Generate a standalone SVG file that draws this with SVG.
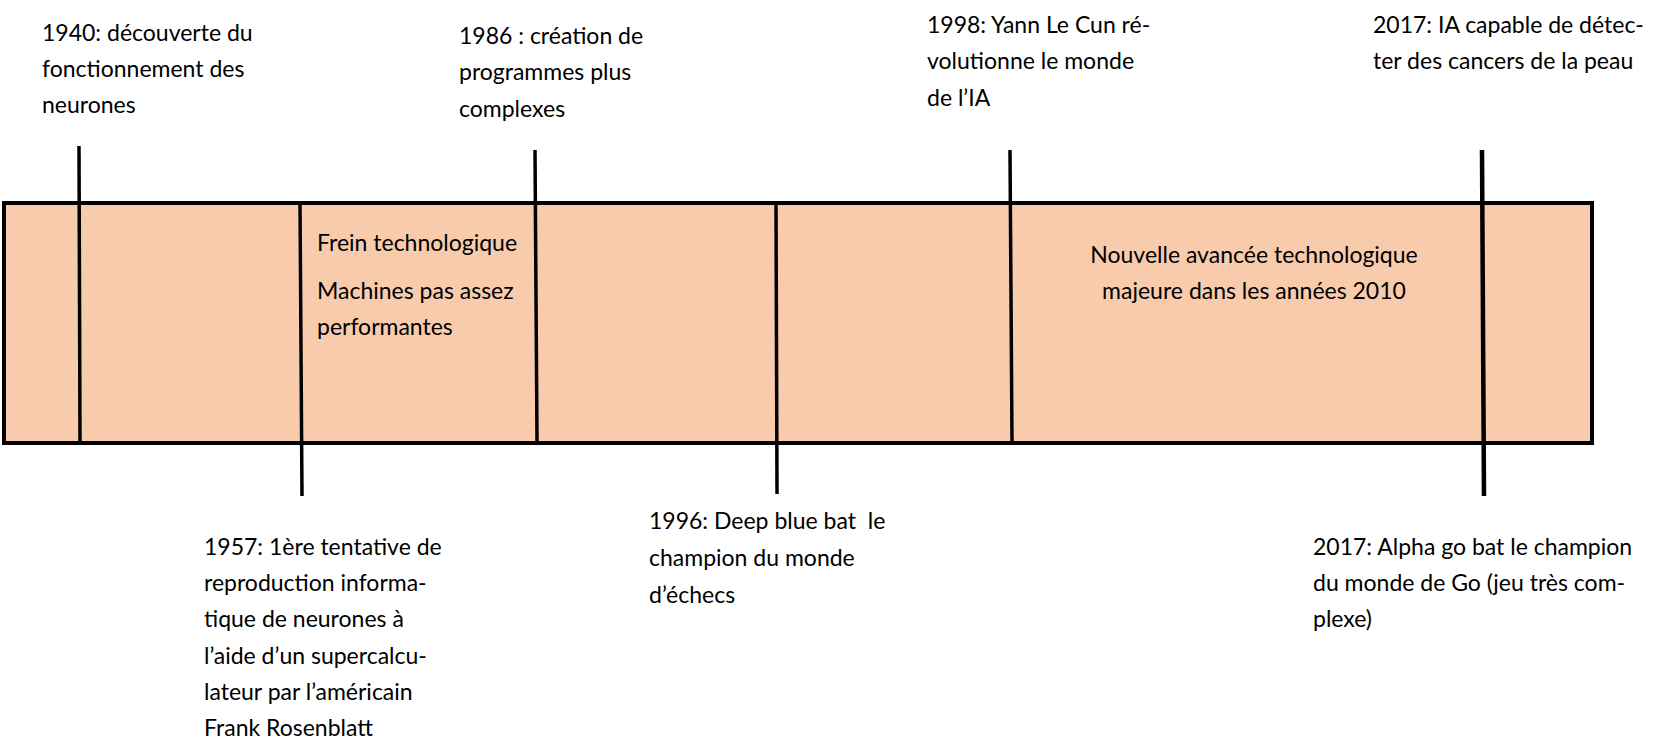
<svg xmlns="http://www.w3.org/2000/svg" width="1656" height="748" viewBox="0 0 1656 748">
<style>
text{font-family:Lato,"Liberation Sans",sans-serif;font-size:23px;fill:#000}
.tick{stroke:#000;stroke-width:3.5;fill:none}
.bar{fill:#F8CBAD;stroke:#000;stroke-width:4}
</style>
<rect width="1656" height="748" fill="#fff"/>
<g id="bar">
<rect class="bar" x="4" y="203" width="1588" height="240"/>
</g>
<g id="connectors">
<line class="tick" x1="79" y1="146" x2="80" y2="441"/>
<line class="tick" x1="300" y1="203" x2="302" y2="496"/>
<line class="tick" x1="535" y1="150" x2="537" y2="441"/>
<line class="tick" x1="776" y1="203" x2="777" y2="494"/>
<line class="tick" x1="1010" y1="150" x2="1012" y2="441"/>
<line class="tick" x1="1482" y1="150" x2="1484" y2="496" style="stroke-width:4.5"/>
</g>
<g id="e1940"><text x="42" y="41">1940: découverte du</text><text x="42" y="77">fonctionnement des</text><text x="42" y="113">neurones</text></g>
<g id="e1957"><text x="204" y="555">1957: 1ère tentative de</text><text x="204" y="591">reproduction informa-</text><text x="204" y="627">tique de neurones à</text><text x="204" y="664">l’aide d’un supercalcu-</text><text x="204" y="700">lateur par l’américain</text><text x="204" y="736">Frank Rosenblatt</text></g>
<g id="frein"><text x="317" y="251">Frein technologique</text><text x="317" y="299">Machines pas assez</text><text x="317" y="335">performantes</text></g>
<g id="e1986"><text x="459" y="44">1986 : création de</text><text x="459" y="80">programmes plus</text><text x="459" y="117">complexes</text></g>
<g id="e1996"><text x="649" y="529" xml:space="preserve">1996: Deep blue bat  le</text><text x="649" y="566">champion du monde</text><text x="649" y="603">d’échecs</text></g>
<g id="e1998"><text x="927" y="33">1998: Yann Le Cun ré-</text><text x="927" y="69">volutionne le monde</text><text x="927" y="106">de l’IA</text></g>
<g id="avancee"><text x="1254" y="263" text-anchor="middle">Nouvelle avancée technologique</text><text x="1254" y="299" text-anchor="middle">majeure dans les années 2010</text></g>
<g id="e2017a"><text x="1373" y="33">2017: IA capable de détec-</text><text x="1373" y="69">ter des cancers de la peau</text></g>
<g id="e2017b"><text x="1313" y="555">2017: Alpha go bat le champion</text><text x="1313" y="591">du monde de Go (jeu très com-</text><text x="1313" y="627">plexe)</text></g>
</svg>
